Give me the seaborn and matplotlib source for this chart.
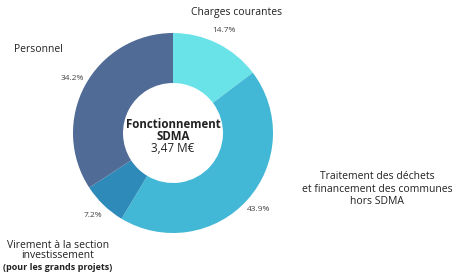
import matplotlib.pyplot as plt
import seaborn as sns

categories = ["Charges courantes", "Traitement des déchets\net financement des communes\nhors SDMA",
              "Virement à la section", "Personnel"]
values = [14.7, 43.9, 7.2, 34.2]
colors = ["#6ae3e8", "#42b8d6", "#2e8ab8", "#4f6b96"]

sns.set_theme(style="white")
plt.rcParams['font.family'] = ['Open Sans', 'DejaVu Sans']

fig = plt.figure(figsize=(4.54, 2.78), dpi=100)
ax = fig.add_axes([0, 0, 1, 1])

wedges, texts, autotexts = ax.pie(
    values, colors=colors, startangle=90, counterclock=False,
    radius=100, center=(173, 145), autopct="%.1f%%", pctdistance=1.15,
    wedgeprops=dict(width=50, linewidth=0),
    textprops=dict(fontsize=6, color="#444444"))

ax.set_aspect('equal')
ax.set_xlim(0, 454)
ax.set_ylim(0, 278)
ax.axis('off')

label_color = "#222222"
ax.text(237, 266, categories[0], ha='center', va='center', fontsize=7.5, color=label_color)
ax.text(377, 89, categories[1], ha='center', va='center', fontsize=7.5, color=label_color,
        linespacing=1.15)
ax.text(58, 33, categories[2], ha='center', va='center', fontsize=7.5, color=label_color)
ax.text(58, 22, "investissement", ha='center', va='center', fontsize=7.5, color=label_color)
ax.text(58, 11, "(pour les grands projets)", ha='center', va='center', fontsize=6.5,
        fontweight='bold', color=label_color)
ax.text(38, 228, categories[3], ha='center', va='center', fontsize=7.5, color=label_color)

ax.text(173, 154, "Fonctionnement", ha='center', va='center', fontsize=8.3,
        fontweight='bold', color=label_color)
ax.text(173, 142, "SDMA", ha='center', va='center', fontsize=8.3,
        fontweight='bold', color=label_color)
ax.text(173, 130, "3,47 M€", ha='center', va='center', fontsize=8.5, color=label_color)

fig.savefig("out.png", dpi=100)
